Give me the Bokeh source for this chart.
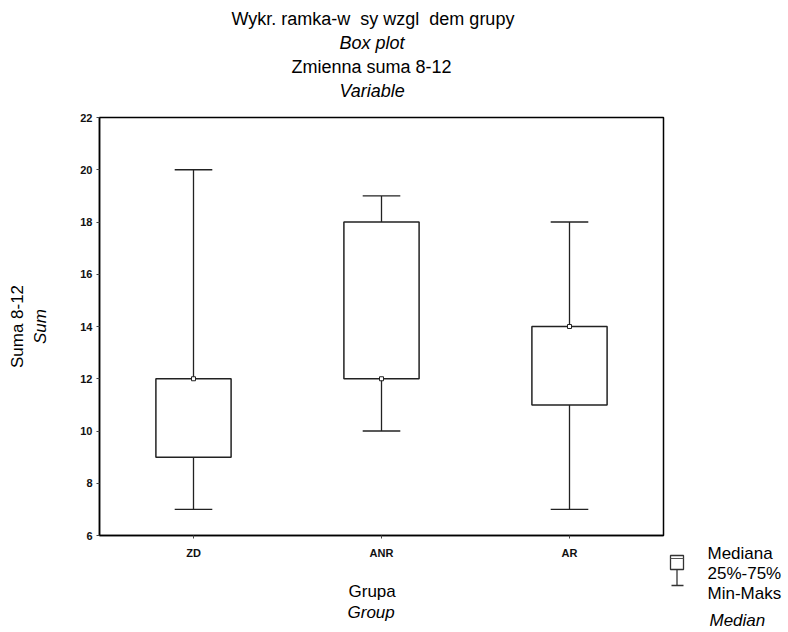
from bokeh.plotting import figure
from bokeh.models import Range1d, FixedTicker, Label, ColumnDataSource, Title
from bokeh.layouts import row
from bokeh.embed import file_html
from bokeh.resources import INLINE

# ---- data ----
groups = ["ZD", "ANR", "AR"]
mins = [7, 10, 7]
q1 = [9, 12, 11]
medians = [12, 12, 14]
q3 = [12, 18, 14]
maxs = [20, 19, 18]
y_ticks = [6, 8, 10, 12, 14, 16, 18, 20, 22]

title_lines = ["Wykr. ramka-w\u00a0 sy wzgl\u00a0 dem grupy", "Box plot", "Zmienna suma 8-12", "Variable"]
title_italic = [False, True, False, True]
y_title = ["Suma 8-12", "Sum"]
x_title = ["Grupa", "Group"]
legend_texts = ["Mediana", "25%-75%", "Min-Maks", "Median"]

FONT = "Liberation Sans"

xs = [i + 0.5 for i in range(len(groups))]
box_w = 0.40
cap_w = 0.20

src = ColumnDataSource(dict(
    x=xs, q1=q1, q3=q3, lo=mins, hi=maxs, med=medians,
    cl=[x - cap_w / 2 for x in xs], cr=[x + cap_w / 2 for x in xs],
))

p = figure(width=666, height=632, output_backend="svg", toolbar_location=None,
           x_range=Range1d(0, len(groups)), y_range=Range1d(6, 22),
           min_border_left=99, min_border_right=3, min_border_top=117, min_border_bottom=97,
           background_fill_color="white", border_fill_color="white")
p.grid.visible = False
p.outline_line_color = "black"
p.outline_line_width = 1.5

# whiskers
p.segment(x0="x", y0="q3", x1="x", y1="hi", source=src, line_color="#222222", line_width=1.3)
p.segment(x0="x", y0="q1", x1="x", y1="lo", source=src, line_color="#222222", line_width=1.3)
p.segment(x0="cl", y0="hi", x1="cr", y1="hi", source=src, line_color="#222222", line_width=1.3)
p.segment(x0="cl", y0="lo", x1="cr", y1="lo", source=src, line_color="#222222", line_width=1.3)
# boxes
p.vbar(x="x", width=box_w, bottom="q1", top="q3", source=src,
       fill_color="white", line_color="#222222", line_width=1.5)
# medians
p.scatter(x="x", y="med", source=src, marker="square", size=4,
          fill_color="white", line_color="#222222", line_width=1)

# axes
p.yaxis.ticker = FixedTicker(ticks=y_ticks)
p.xaxis.ticker = FixedTicker(ticks=xs)
p.xaxis.major_label_overrides = {x: g for x, g in zip(xs, groups)}
for ax in (p.xaxis[0], p.yaxis[0]):
    ax.axis_line_color = "black"
    ax.axis_line_width = 1.5
    ax.major_tick_line_color = "#444444"
    ax.major_tick_out = 3
    ax.major_tick_in = 0
    ax.minor_tick_line_color = None
    ax.major_label_text_font = FONT
    ax.major_label_text_font_style = "bold"
    ax.major_label_text_font_size = "11px"
    ax.major_label_text_color = "#111111"
p.yaxis.major_label_standoff = 4
p.xaxis.major_label_standoff = 8


def spacer(standoff):
    # blank title used only to reserve room in a side panel
    return Title(text="\u00a0", text_font=FONT, text_font_size="10px",
                 text_color="white", standoff=standoff)


def mk_title(txt, italic, size, standoff, align="center", offset=0):
    return Title(text=txt, align=align, text_font=FONT, text_font_size=size,
                 text_font_style="italic" if italic else "normal", text_color="black",
                 standoff=standoff, offset=offset)


# title: panels stack outward from the frame
p.add_layout(spacer(3), "above")
offsets = [132, 240, 192, 240]
for txt, it, off in reversed(list(zip(title_lines, title_italic, offsets))):
    p.add_layout(mk_title(txt, it, "18px", 2, align="left", offset=off), "above")
# y title
p.add_layout(spacer(14), "left")
p.add_layout(mk_title(y_title[1], True, "17px", 2), "left")
p.add_layout(mk_title(y_title[0], False, "17px", 2), "left")
# x title
p.add_layout(spacer(5), "below")
p.add_layout(mk_title(x_title[0], False, "17px", 0, align="left", offset=249), "below")
p.add_layout(mk_title(x_title[1], True, "17px", 0, align="left", offset=248), "below")

# legend panel (pixel coordinates of the page)
leg = figure(width=122, height=632, output_backend="svg", toolbar_location=None,
             x_range=Range1d(666, 788), y_range=Range1d(632, 0),
             min_border=0, min_border_left=0, min_border_right=0,
             min_border_top=0, min_border_bottom=0)
leg.frame_align = False
leg.axis.visible = False
leg.grid.visible = False
leg.outline_line_color = None
leg.quad(left=[670], right=[683], top=[555], bottom=[569], fill_color="white",
         line_color="#333333", line_width=1.3)
leg.segment(x0=[670], y0=[558], x1=[683], y1=[558], line_color="#555555", line_width=1)
leg.segment(x0=[676.5], y0=[569], x1=[676.5], y1=[585], line_color="#333333", line_width=1.3)
leg.segment(x0=[671], y0=[585], x1=[683], y1=[585], line_color="#333333", line_width=1.3)
for txt, py, it in zip(legend_texts, [553, 573, 593, 620], [False, False, False, True]):
    leg.add_layout(Label(x=707 if not it else 709, y=py, text=txt, text_align="left",
                         text_baseline="middle", text_font=FONT, text_font_size="17px",
                         text_font_style="italic" if it else "normal", text_color="black"))

layout = row(p, leg, spacing=0)
open("out.html", "w").write(file_html(layout, INLINE))
